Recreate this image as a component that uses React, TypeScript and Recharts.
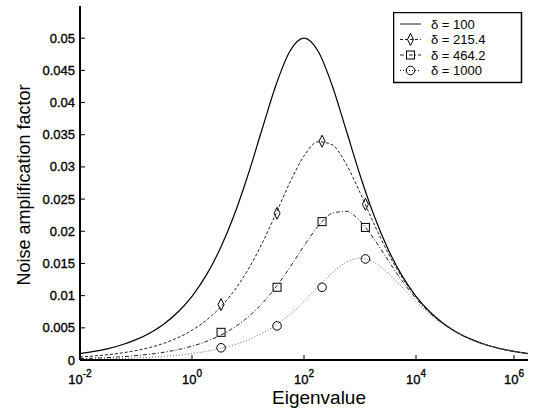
import { ComposedChart, Line, Scatter, XAxis, YAxis, Legend, Label } from 'recharts';

// eigenvalue grid, quarter decades from 1e-2 to 1e6
const lambda = [
  0.01, 0.01778, 0.03162, 0.05623, 0.1, 0.1778, 0.3162, 0.5623, 1, 1.778, 3.162, 5.623, 10, 17.78, 31.62, 56.23,
  100, 177.8, 316.2, 562.3, 1000, 1778, 3162, 5623, 10000, 17783, 31623, 56234, 100000, 177828, 316228, 562341, 1000000,
];

const delta100 = [
  0.001, 0.001334, 0.001778, 0.00237, 0.003159, 0.00421, 0.005605, 0.007457, 0.009901, 0.013102, 0.017238, 0.022452,
  0.028748, 0.035804, 0.042725, 0.047999, 0.05, 0.048002, 0.042727, 0.035805, 0.028748, 0.022455, 0.017239, 0.013103,
  0.009901, 0.007457, 0.005606, 0.00421, 0.003159, 0.00237, 0.001778, 0.001333, 0.001,
];
const delta215 = [
  0.000464, 0.000619, 0.000825, 0.0011, 0.001467, 0.001956, 0.002607, 0.003472, 0.004621, 0.00614, 0.008136, 0.010729,
  0.01403, 0.018085, 0.022765, 0.027607, 0.031706, 0.033914, 0.033452, 0.030492, 0.026019, 0.021155, 0.01665, 0.012844,
  0.009789, 0.007409, 0.005585, 0.004201, 0.003156, 0.002369, 0.001777, 0.001333, 0.001,
];
const delta464 = [
  0.000215, 0.000287, 0.000383, 0.000511, 0.000681, 0.000908, 0.001211, 0.001614, 0.00215, 0.002862, 0.003805, 0.005047,
  0.006669, 0.008749, 0.011342, 0.014409, 0.017724, 0.020771, 0.022787, 0.023102, 0.021598, 0.018807, 0.015508, 0.012319,
  0.009556, 0.007308, 0.005542, 0.004183, 0.003148, 0.002365, 0.001776, 0.001332, 0.001,
];
const delta1000 = [
  0.0001, 0.000133, 0.000178, 0.000237, 0.000316, 0.000422, 0.000562, 0.000749, 0.000999, 0.001331, 0.001773, 0.002358,
  0.003131, 0.004143, 0.005451, 0.0071, 0.009091, 0.011322, 0.013511, 0.015179, 0.015811, 0.01518, 0.013511, 0.011322,
  0.009091, 0.0071, 0.005451, 0.004143, 0.003131, 0.002358, 0.001773, 0.001331, 0.000999,
];

// marker positions
const markerLambda = [3.3, 33, 210, 1250];
const marker215 = [0.0086, 0.0228, 0.034, 0.0242];
const marker464 = [0.0043, 0.0113, 0.0215, 0.0206];
const marker1000 = [0.0019, 0.0053, 0.0113, 0.0157];

const xTicks = [0.01, 1, 100, 10000, 1000000];
const xExp = ['-2', '0', '2', '4', '6'];
const yTicks = [0, 0.005, 0.01, 0.015, 0.02, 0.025, 0.03, 0.035, 0.04, 0.045, 0.05];

const seriesNames = ['\u03b4 = 100', '\u03b4 = 215.4', '\u03b4 = 464.2', '\u03b4 = 1000'];

const curveRows = lambda.map((x, i) => ({ x, d100: delta100[i], d215: delta215[i], d464: delta464[i], d1000: delta1000[i] }));
const rows215 = markerLambda.map((x, i) => ({ x, y: marker215[i] }));
const rows464 = markerLambda.map((x, i) => ({ x, y: marker464[i] }));
const rows1000 = markerLambda.map((x, i) => ({ x, y: marker1000[i] }));

const font = '"Liberation Sans", Arial, Helvetica, sans-serif';
const ink = '#000';
const lineGray = '#222';

const Diamond = ({ cx, cy }: any) => (
  <polygon points={`${cx},${cy - 6} ${cx + 3},${cy} ${cx},${cy + 6} ${cx - 3},${cy}`} fill="none" stroke={ink} strokeWidth={1} />
);
const Square = ({ cx, cy }: any) => (
  <rect x={cx - 4} y={cy - 4} width={8} height={8} fill="none" stroke={ink} strokeWidth={1} />
);
const Circle = ({ cx, cy }: any) => <circle cx={cx} cy={cy} r={4.3} fill="none" stroke={ink} strokeWidth={1} />;

const BottomTick = ({ x, y, payload }: any) => {
  const idx = xTicks.indexOf(payload.value);
  return (
    <g>
      <line x1={x} y1={y} x2={x} y2={y - 5} stroke={ink} />
      <text x={x} y={y + 24} textAnchor="middle" fontSize={13} fontFamily={font} fill={ink} stroke={ink} strokeWidth={0.35}>
        <tspan>10</tspan>
        <tspan dy={-7} fontSize={10}>{xExp[idx]}</tspan>
      </text>
    </g>
  );
};
const TopTick = ({ x, y }: any) => <line x1={x} y1={y} x2={x} y2={y + 5} stroke={ink} />;
const LeftTick = ({ x, y, payload }: any) => (
  <g>
    <line x1={x} y1={y} x2={x + 5} y2={y} stroke={ink} />
    <text x={x - 5} y={y} dy="0.35em" textAnchor="end" fontSize={13} fontFamily={font} fill={ink} stroke={ink} strokeWidth={0.35}>
      {String(payload.value)}
    </text>
  </g>
);
const RightTick = ({ x, y }: any) => <line x1={x} y1={y} x2={x - 5} y2={y} stroke={ink} />;

const legendRows = [
  { dash: undefined, mark: null },
  { dash: '3 2', mark: 'diamond' },
  { dash: '4 2 1 2', mark: 'square' },
  { dash: '1 2', mark: 'circle' },
];

const LegendBox = () => (
  <svg width={130} height={72} style={{ display: 'block' }}>
    <rect x={0.5} y={0.5} width={128} height={70} fill="#fff" stroke={ink} strokeWidth={1.5} />
    {legendRows.map((r, i) => {
      const y = 12 + i * 15.5;
      return (
        <g key={i}>
          <line x1={7} y1={y} x2={28} y2={y} stroke={lineGray} strokeDasharray={r.dash} />
          {r.mark === 'diamond' && <Diamond cx={17.5} cy={y} />}
          {r.mark === 'square' && <Square cx={17.5} cy={y} />}
          {r.mark === 'circle' && <Circle cx={17.5} cy={y} />}
          <text x={38} y={y} dy="0.35em" fontSize={13} fontFamily={font} fill={ink}>
            {seriesNames[i]}
          </text>
        </g>
      );
    })}
  </svg>
);

export default function App() {
  return (
    <div style={{ position: 'absolute', left: 0, top: 0, background: '#fff' }}>
      <ComposedChart width={542} height={410} data={curveRows} margin={{ top: 6, right: 14, bottom: 0, left: 0 }}>
        <XAxis
          dataKey="x"
          type="number"
          scale="log"
          domain={[0.01, 1000000]}
          ticks={xTicks}
          allowDataOverflow
          height={50}
          tickSize={0}
          tickMargin={0}
          tickLine={false}
          tick={<BottomTick />}
          axisLine={{ stroke: ink, strokeWidth: 2 }}
        >
          <Label value="Eigenvalue" position="insideBottom" offset={6} dx={15} fontSize={19} fontFamily={font} fill={ink} />
        </XAxis>
        <XAxis
          xAxisId="top"
          orientation="top"
          dataKey="x"
          type="number"
          scale="log"
          domain={[0.01, 1000000]}
          ticks={xTicks}
          allowDataOverflow
          height={0}
          tickSize={0}
          tickMargin={0}
          tickLine={false}
          tick={<TopTick />}
          axisLine={{ stroke: '#777', strokeWidth: 1 }}
        />
        <YAxis
          type="number"
          domain={[0, 0.055]}
          ticks={yTicks}
          allowDataOverflow
          width={80}
          tickSize={0}
          tickMargin={0}
          tickLine={false}
          tick={<LeftTick />}
          axisLine={{ stroke: ink, strokeWidth: 2 }}
        >
          <Label value="Noise amplification factor" angle={-90} position="center" dx={-16} dy={2} fontSize={18} fontFamily={font} fill={ink} />
        </YAxis>
        <YAxis
          yAxisId="right"
          orientation="right"
          type="number"
          domain={[0, 0.055]}
          ticks={yTicks}
          width={0}
          tickSize={0}
          tickMargin={0}
          tickLine={false}
          tick={<RightTick />}
          axisLine={{ stroke: '#777', strokeWidth: 1 }}
        />
        <Line dataKey="d100" type="monotone" stroke={ink} strokeWidth={1.2} dot={false} isAnimationActive={false} />
        <Line dataKey="d215" type="monotone" stroke={lineGray} strokeWidth={1} strokeDasharray="3 2" dot={false} isAnimationActive={false} />
        <Line dataKey="d464" type="monotone" stroke={lineGray} strokeWidth={1} strokeDasharray="4 2 1 2" dot={false} isAnimationActive={false} />
        <Line dataKey="d1000" type="monotone" stroke="#666" strokeWidth={1} strokeDasharray="1 2" dot={false} isAnimationActive={false} />
        <Scatter data={rows215} dataKey="y" shape={<Diamond />} isAnimationActive={false} />
        <Scatter data={rows464} dataKey="y" shape={<Square />} isAnimationActive={false} />
        <Scatter data={rows1000} dataKey="y" shape={<Circle />} isAnimationActive={false} />
        <Legend
          layout="horizontal"
          verticalAlign="middle"
          align="center"
          content={<LegendBox />}
          wrapperStyle={{ left: 393, top: 12, width: 130, height: 72 }}
        />
      </ComposedChart>
    </div>
  );
}
